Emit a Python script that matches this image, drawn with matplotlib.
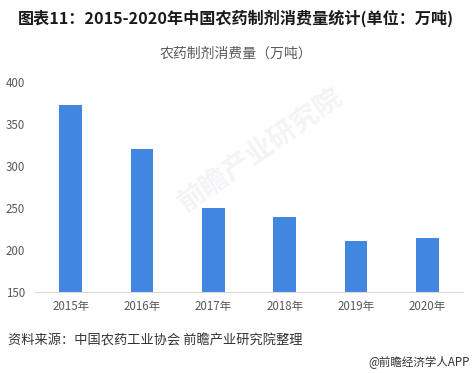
import matplotlib
matplotlib.use('Agg')
import matplotlib.pyplot as plt

plt.rcParams['font.family'] = ['Noto Sans CJK SC', 'DejaVu Sans']

years = ['2015年', '2016年', '2017年', '2018年', '2019年', '2020年']
consumption = [373, 320, 250, 239, 211, 214]

fig = plt.figure(figsize=(4.72, 3.73), dpi=100)
ax = fig.add_axes([35 / 472, 81 / 373, 428 / 472, 210 / 373])

ax.bar(range(len(years)), consumption, width=0.32, color='#4186e0', zorder=2)

ax.set_xlim(-0.5, len(years) - 0.5)
ax.set_ylim(150, 400)
ax.set_yticks([150, 200, 250, 300, 350, 400])
ax.set_xticks(range(len(years)))
ax.set_xticklabels(years)
ax.tick_params(axis='both', length=0, labelsize=8.3, labelcolor='#595959')
ax.tick_params(axis='x', pad=6)
ax.tick_params(axis='y', pad=21)
for lbl in ax.get_yticklabels():
    lbl.set_horizontalalignment('left')
for s in ['top', 'right', 'left']:
    ax.spines[s].set_visible(False)
ax.spines['bottom'].set_color('#d9d9d9')

# faint watermark behind the bars
ax.text(0.55, 0.60, '前瞻产业研究院', transform=fig.transFigure, fontsize=20,
        color='#f4f4f7', rotation=35, ha='center', va='center',
        fontweight='bold', zorder=1)

fig.text(0.5, 1 - 18 / 373, '图表11：2015-2020年中国农药制剂消费量统计(单位：万吨)',
         ha='center', va='center', fontsize=11.6, fontweight='bold', color='#1a1a1a')
fig.text(0.5, 1 - 54 / 373, '农药制剂消费量（万吨）', ha='center', va='center',
         fontsize=10, color='#595959')
fig.text(8 / 472, 1 - 341 / 373, '资料来源：中国农药工业协会 前瞻产业研究院整理',
         ha='left', va='center', fontsize=9.5, color='#333333')
fig.text(470 / 472, 1 - 362 / 373, '@前瞻经济学人APP', ha='right', va='center',
         fontsize=8.3, color='#333333')

fig.savefig('out.png', dpi=100)
